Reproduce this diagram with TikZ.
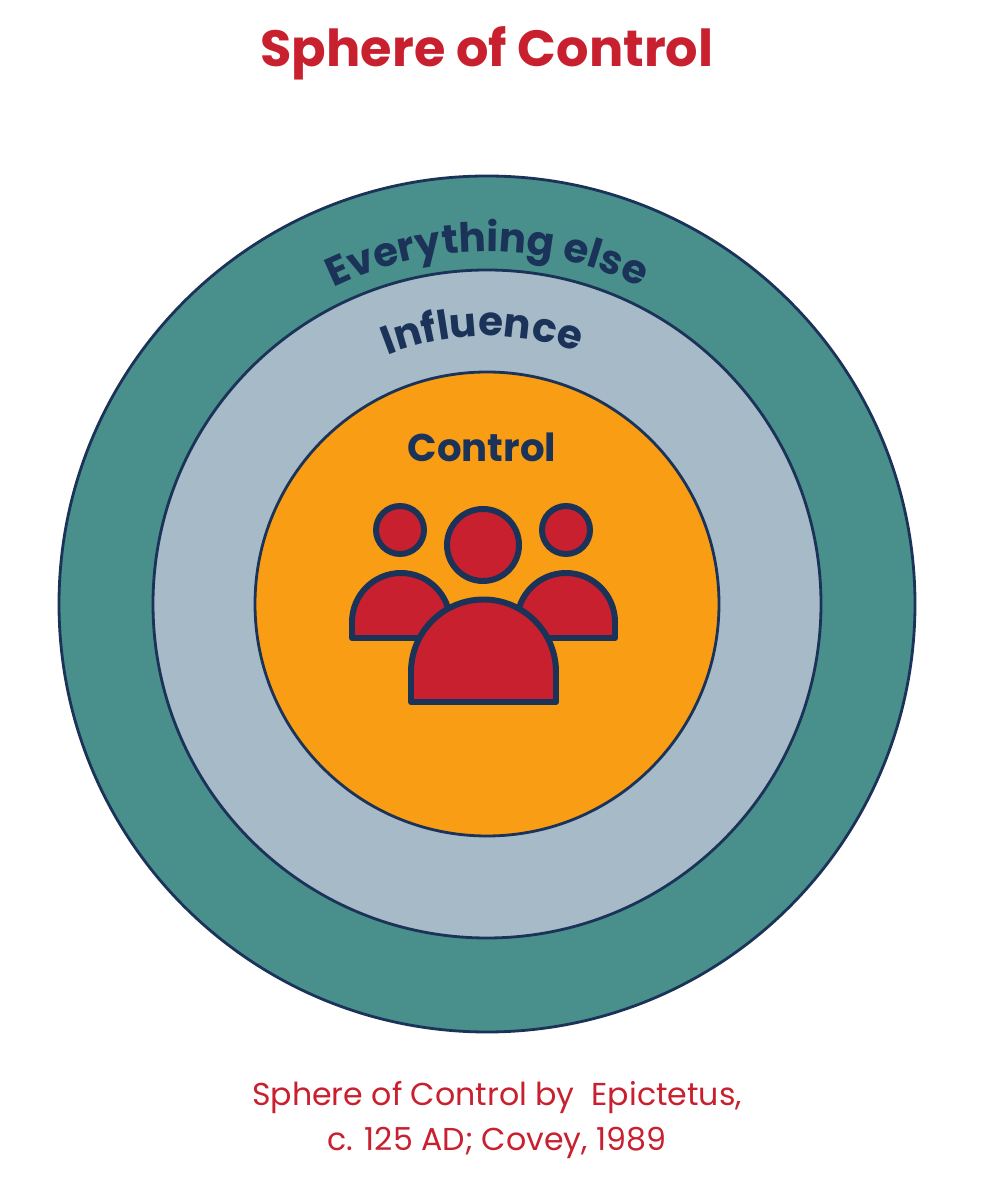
\documentclass[tikz,border=0pt]{standalone}
\usepackage{fontspec}
\setmainfont{Poppins}
\usetikzlibrary{decorations.text,calc}
\definecolor{teal1}{HTML}{498F8C}
\definecolor{grey1}{HTML}{A6BAC8}
\definecolor{orange1}{HTML}{F99D14}
\definecolor{navy}{HTML}{1B3358}
\definecolor{red1}{HTML}{C8202F}
\tikzset{ring/.style={draw=navy,line width=1.6pt},
 person/.style={draw=navy,fill=red1,line width=3.4pt,line join=round}}
\begin{document}
\begin{tikzpicture}[x=0.02cm,y=0.02cm]
\useasboundingbox (0,0) rectangle (981,1197);
\coordinate (c) at (487,593);
\node[font=\fontsize{29}{34}\selectfont\bfseries,text=red1] (title) at (487,1144) {Sphere of Control};
\draw[ring,fill=teal1] (c) circle (428);
\draw[ring,fill=grey1] (c) circle (334);
\draw[ring,fill=orange1] (c) circle (232);
\path[decorate,decoration={text along path,text align=center,
  text={|\fontsize{23}{28}\selectfont\bfseries\color{navy}|Everything else}}]
  ($(c)+(150:352)$) arc (150:30:352);
\path[decorate,decoration={text along path,text align=center,
  text={|\fontsize{23}{28}\selectfont\bfseries\color{navy}|Influence}}]
  ($(c)+(128:268)$) arc (128:54:268);
\node[font=\fontsize{22}{26}\selectfont\bfseries,text=navy] (ctl) at (482,750) {Control};
% people
\draw[person] (352,559) -- (352,575) arc (180:0:49) -- (450,559) -- cycle;
\draw[person] (517,559) -- (517,575) arc (180:0:49) -- (615,559) -- cycle;
\draw[person] (400,667) circle (24);
\draw[person] (566,667) circle (24);
\draw[person] (483,652) circle (36);
\draw[person] (411,495) -- (411,525) arc (180:0:72.5) -- (556,495) -- cycle;
\node[font=\fontsize{18}{26}\selectfont,text=red1,align=center] (cap) at (497,77) {Sphere of Control by \ Epictetus,\\c. 125 AD; Covey, 1989};
\end{tikzpicture}
\end{document}
